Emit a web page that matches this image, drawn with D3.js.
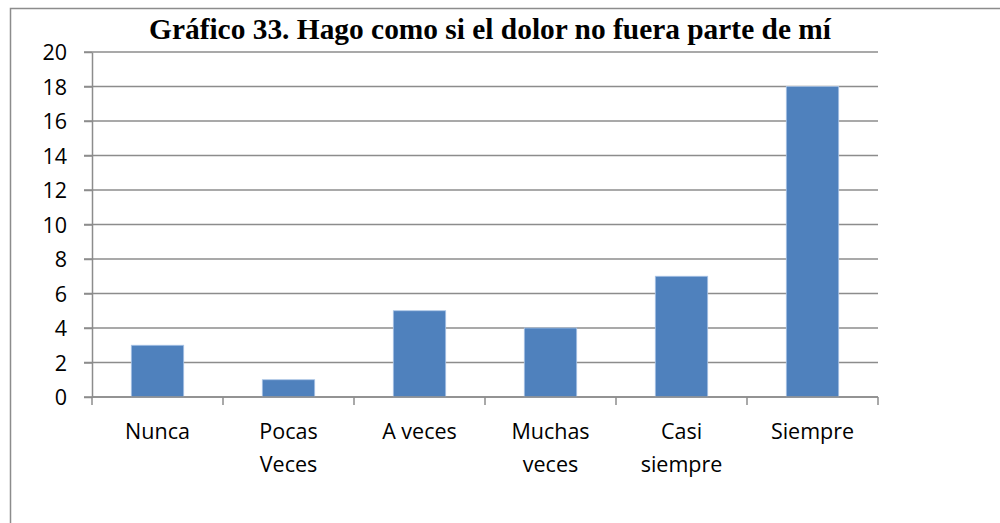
<!DOCTYPE html>
<html>
<head>
<meta charset="utf-8">
<script src="https://cdn.jsdelivr.net/npm/d3@7"></script>
<style>
  body { margin: 0; background: #fff; }
  .axis text { font-family: "Open Sans", Lato, sans-serif; font-size: 21.5px; fill: #000; }
  .title { font-family: "Liberation Serif", "Times New Roman", serif; font-weight: bold; font-size: 29.4px; }
</style>
</head>
<body>
<div id="chart"></div>
<script>
// data
const categories = ['Nunca', 'Pocas Veces', 'A veces', 'Muchas veces', 'Casi siempre', 'Siempre'];
const counts = [3, 1, 5, 4, 7, 18];
const yTicks = [0, 2, 4, 6, 8, 10, 12, 14, 16, 18, 20];
const title = 'Gráfico 33. Hago como si el dolor no fuera parte de mí';

const width = 1000, height = 523;
const margin = { top: 52, right: 122, bottom: 126, left: 92 };
const innerW = width - margin.left - margin.right;
const innerH = height - margin.top - margin.bottom;

const svg = d3.select('#chart').append('svg')
    .attr('width', width)
    .attr('height', height);

// outer chart border (runs off the right and bottom of the frame)
svg.append('rect')
    .attr('x', 10.5).attr('y', 8.5)
    .attr('width', 1000).attr('height', 600)
    .attr('fill', 'none')
    .attr('stroke', '#8c8c8c')
    .attr('stroke-width', 1.5);

svg.append('text')
    .attr('class', 'title')
    .attr('x', 490)
    .attr('y', 39)
    .attr('text-anchor', 'middle')
    .text(title);

const chart = svg.append('g')
    .attr('transform', `translate(${margin.left},${margin.top})`);

const x = d3.scaleBand().domain(categories).range([0, innerW]).padding(0);
const y = d3.scaleLinear().domain([0, 20]).range([innerH, 0]);

// gridlines
chart.append('g')
    .selectAll('line')
    .data(yTicks)
    .join('line')
    .attr('x1', -8).attr('x2', innerW)
    .attr('y1', d => y(d)).attr('y2', d => y(d))
    .attr('stroke', '#8c8c8c')
    .attr('stroke-width', 1.5);

// y axis
const yAxisG = chart.append('g')
    .attr('class', 'axis')
    .call(d3.axisLeft(y).tickValues(yTicks).tickSize(8).tickSizeOuter(0).tickPadding(17));
yAxisG.selectAll('line, path').attr('stroke', '#8c8c8c').attr('stroke-width', 1.5);
yAxisG.selectAll('text').attr('dy', '0.35em');

// x axis ticks at band edges
const edges = d3.range(categories.length + 1).map(i => i * x.step());
chart.append('g')
    .selectAll('line')
    .data(edges)
    .join('line')
    .attr('x1', d => d).attr('x2', d => d)
    .attr('y1', innerH).attr('y2', innerH + 8)
    .attr('stroke', '#8c8c8c')
    .attr('stroke-width', 1.5);

// bars (Excel gap width 150%)
const barW = x.step() * 0.4;
chart.append('g')
    .selectAll('rect')
    .data(categories.map((c, i) => ({ c, v: counts[i] })))
    .join('rect')
    .attr('x', d => x(d.c) + (x.bandwidth() - barW) / 2)
    .attr('y', d => y(d.v))
    .attr('width', barW)
    .attr('height', d => innerH - y(d.v))
    .attr('fill', '#4f81bd')
    .attr('stroke', '#a9c4e6')
    .attr('stroke-width', 0.8);

// x axis baseline drawn over bars
chart.append('line')
    .attr('x1', 0).attr('x2', innerW)
    .attr('y1', innerH).attr('y2', innerH)
    .attr('stroke', '#8c8c8c')
    .attr('stroke-width', 1.5);

// category labels, wrapped when wider than the slot
const maxLabelW = 110;
const labels = chart.append('g').attr('class', 'axis')
    .selectAll('text')
    .data(categories)
    .join('text')
    .attr('x', d => x(d) + x.bandwidth() / 2)
    .attr('y', innerH + 42)
    .attr('text-anchor', 'middle');
labels.each(function (d) {
    const t = d3.select(this);
    const cx = x(d) + x.bandwidth() / 2;
    t.text(d);
    let lines = [d];
    if (this.getComputedTextLength() > maxLabelW) lines = d.split(' ');
    t.text(null);
    lines.forEach((w, i) => {
        t.append('tspan')
            .attr('x', cx)
            .attr('dy', i === 0 ? 0 : 33)
            .text(w);
    });
});
</script>
</body>
</html>
